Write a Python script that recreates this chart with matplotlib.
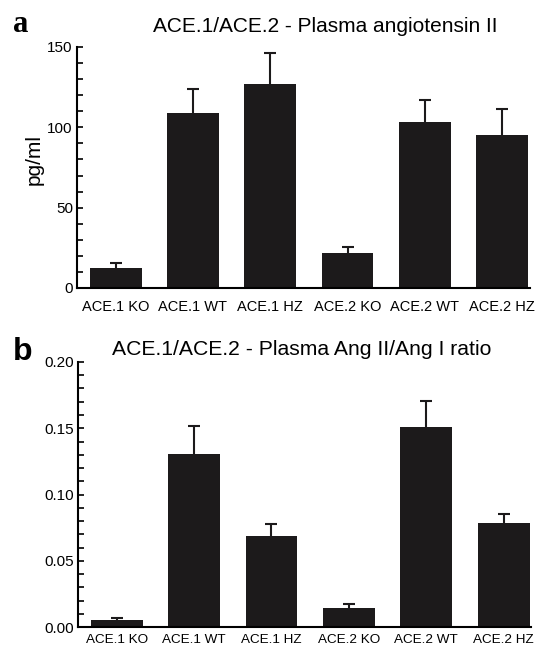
import numpy as np
import matplotlib
matplotlib.use("Agg")
import matplotlib.pyplot as plt
from matplotlib.ticker import MultipleLocator

# groups on the x axis
groups = ["ACE.1 KO", "ACE.1 WT", "ACE.1 HZ", "ACE.2 KO", "ACE.2 WT", "ACE.2 HZ"]

# panel a: plasma angiotensin II (pg/ml), mean and upper error
ang2_mean = [12.5, 109, 127, 21.5, 103, 95.5]
ang2_err = [3.3, 15, 19, 4.3, 14, 16]

# panel b: Ang II / Ang I ratio
ratio_mean = [0.0053, 0.1308, 0.0689, 0.0146, 0.1512, 0.0785]
ratio_err = [0.0015, 0.021, 0.0086, 0.003, 0.019, 0.0068]

plt.rcParams["font.family"] = ["Liberation Sans", "DejaVu Sans"]
bar_color = "#1c1a1b"

fig = plt.figure(figsize=(5.36, 6.52), dpi=100)
ax1 = fig.add_axes([0.1437, 0.5583, 0.845, 0.3697])
ax2 = fig.add_axes([0.1455, 0.0383, 0.846, 0.4065])

x = np.arange(len(groups))


def draw_panel(ax, means, errs, major, minor, ymax, fmt, xpad, xsize):
    ax.bar(x, means, width=0.67, color=bar_color, edgecolor="none", zorder=2)
    eb = ax.errorbar(x, means, yerr=[np.zeros(len(errs)), errs], fmt="none",
                     ecolor=bar_color, elinewidth=1.5, capsize=4.5,
                     capthick=1.5, zorder=1)
    # only the upper cap is wanted
    eb[1][0].set_visible(False)
    ax.set_ylim(0, ymax)
    ax.set_xlim(-0.5, 5.36)
    ax.set_xticks(x)
    ax.set_xticklabels(groups, fontsize=xsize)
    ax.tick_params(axis="x", length=0, pad=xpad)
    ax.yaxis.set_major_locator(MultipleLocator(major))
    ax.yaxis.set_minor_locator(MultipleLocator(minor))
    ax.yaxis.set_major_formatter(fmt)
    ax.tick_params(axis="y", which="both", direction="in", length=4,
                   width=1.2, labelsize=11, pad=3)
    for s in ["top", "right"]:
        ax.spines[s].set_visible(False)
    for s in ["left", "bottom"]:
        ax.spines[s].set_linewidth(1.5)


draw_panel(ax1, ang2_mean, ang2_err, 50, 10, 150, "{x:.0f}", 9, 10.5)
draw_panel(ax2, ratio_mean, ratio_err, 0.05, 0.01, 0.20, "{x:.2f}", 5, 9.7)

fig.text(0.064, 0.756, "pg/ml", rotation=90, fontsize=15,
         ha="center", va="center")

fig.text(0.606, 0.951, "ACE.1/ACE.2 - Plasma angiotensin II",
         fontsize=15, ha="center", va="baseline")
fig.text(0.563, 0.4555, "ACE.1/ACE.2 - Plasma Ang II/Ang I ratio",
         fontsize=15.2, ha="center", va="baseline")

fig.text(0.024, 0.951, "a", fontsize=22, fontweight="bold",
         family=["Liberation Serif", "DejaVu Serif"], va="baseline")
fig.text(0.024, 0.448, "b", fontsize=23, fontweight="bold", va="baseline")

fig.savefig("out.png", dpi=100)
